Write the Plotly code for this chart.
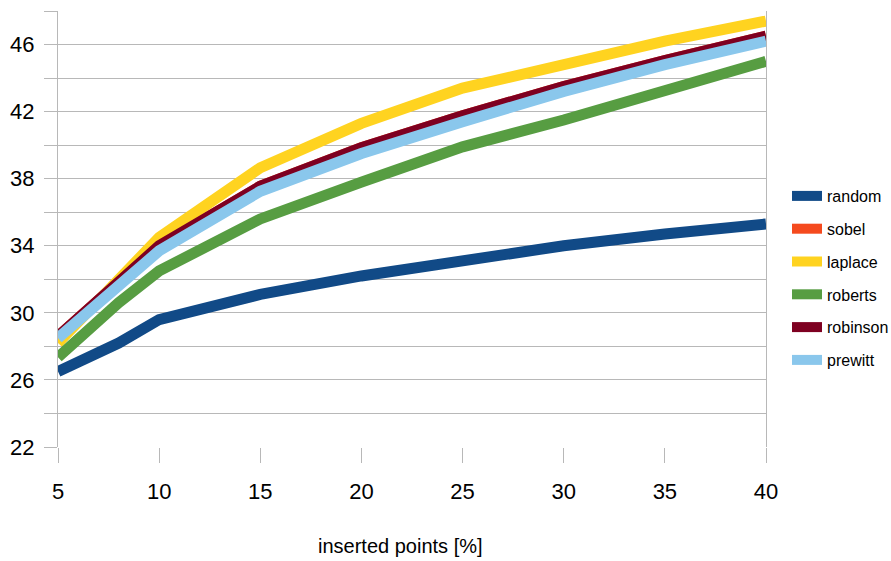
import plotly.graph_objects as go

x_pct = [5, 8, 10, 15, 20, 25, 30, 35, 40]

random_v   = [26.5, 28.2, 29.6, 31.1, 32.2, 33.1, 34.0, 34.7, 35.3]
sobel_v    = [28.6, 31.75, 34.0, 37.55, 39.85, 41.75, 43.5, 45.05, 46.5]
laplace_v  = [28.2, 32.0, 34.5, 38.65, 41.3, 43.4, 44.85, 46.2, 47.4]
roberts_v  = [27.35, 30.6, 32.5, 35.6, 37.8, 39.9, 41.5, 43.25, 45.0]
robinson_v = [28.6, 31.75, 34.0, 37.55, 39.85, 41.75, 43.5, 45.05, 46.5]
prewitt_v  = [28.5, 31.55, 33.7, 37.25, 39.5, 41.4, 43.2, 44.8, 46.2]

series = [
    ("random", random_v, "#114A87"),
    ("sobel", sobel_v, "#F54A1E"),
    ("laplace", laplace_v, "#FFD320"),
    ("roberts", roberts_v, "#579D42"),
    ("robinson", robinson_v, "#7E0021"),
    ("prewitt", prewitt_v, "#8AC7EC"),
]

x_ticks = [5, 10, 15, 20, 25, 30, 35, 40]
y_ticks = [22, 26, 30, 34, 38, 42, 46]
x_title = "inserted points [%]"

FONT = "Liberation Sans, Arial, sans-serif"
GRID = "#b8b8b8"

fig = go.Figure()
for name, vals, col in series:
    fig.add_trace(go.Scatter(x=x_pct, y=vals, name=name, mode="lines",
                             legendgroup=name,
                             line=dict(color=col, width=11)))

fig.update_layout(
    width=891, height=561,
    margin=dict(l=58, r=125, t=11, b=114, autoexpand=False),
    plot_bgcolor="white", paper_bgcolor="white",
    font=dict(family=FONT, color="#000000"),
    showlegend=True,
    legend=dict(xref="container", yref="container",
                x=787 / 891, y=1 - 179 / 561, xanchor="left", yanchor="top",
                font=dict(family=FONT, size=16), itemwidth=30,
                tracegroupgap=9,
                bgcolor="rgba(0,0,0,0)"),
    xaxis=dict(range=[5, 40], tickvals=x_ticks, ticktext=[str(v) for v in x_ticks],
               showgrid=False, zeroline=False, ticks="outside", ticklen=15,
               tickcolor=GRID, tickwidth=1, showline=False, automargin=False,
               ticklabelstandoff=10,
               tickfont=dict(family=FONT, size=22)),
    yaxis=dict(range=[22, 48], tickvals=y_ticks, ticktext=[str(v) for v in y_ticks],
               showgrid=True, gridcolor=GRID, gridwidth=1, zeroline=False,
               ticks="outside", ticklen=13, tickcolor=GRID, tickwidth=1,
               showline=True, linecolor=GRID, linewidth=1, mirror=True,
               automargin=False, ticklabelstandoff=5,
               tickfont=dict(family=FONT, size=22),
               minor=dict(dtick=2, tick0=22, showgrid=True, gridcolor=GRID,
                          gridwidth=1, ticks="outside", ticklen=13, tickcolor=GRID)),
    annotations=[dict(text=x_title, xref="paper", yref="paper",
                      x=(400 - 58) / 708, y=-(546 - 447) / 436,
                      xanchor="center", yanchor="middle", showarrow=False,
                      font=dict(family=FONT, size=20))],
)

fig.write_html("out.html", config={"displayModeBar": False},
               post_script="document.body.style.margin='0px';")
